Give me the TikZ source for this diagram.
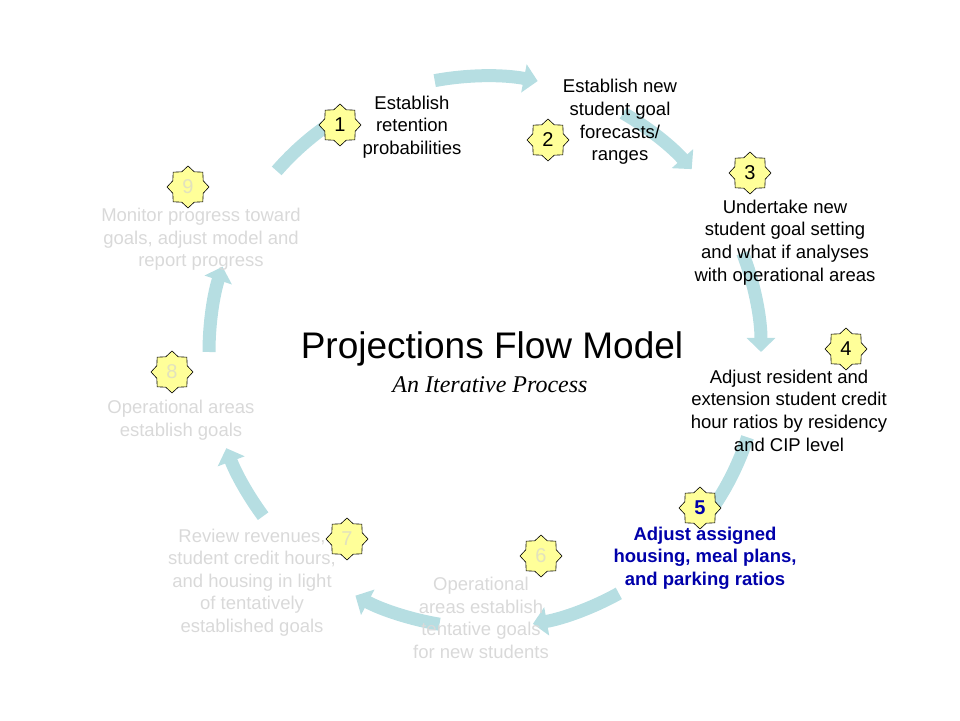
\documentclass[tikz,border=0pt]{standalone}
\usepackage{fontspec}
\setmainfont{Liberation Sans}
\newfontfamily\subfont{Liberation Serif}
\usetikzlibrary{shapes.geometric,arrows.meta}
\definecolor{arrowc}{RGB}{182,222,226}
\definecolor{fadec}{RGB}{217,217,217}
\definecolor{fadenum}{RGB}{226,226,190}
\definecolor{starfill}{RGB}{255,255,153}
\definecolor{bluec}{RGB}{0,0,170}
\begin{document}
\begin{tikzpicture}[x=1pt,y=1pt,
  flowarrow/.style={draw=arrowc, line width=13pt, -{Triangle[width=28pt,length=14pt]}},
  flowshaft/.style={draw=arrowc, line width=13pt},
  badge/.style={star, star points=8, star point ratio=1.28, minimum size=42pt, inner sep=0pt,
    draw=black, line width=0.6pt, fill=starfill, font=\fontsize{20}{20}\selectfont},
  stagetext/.style={align=center, font=\fontsize{18.5}{22.6}\selectfont, inner sep=0pt},
  fadetext/.style={stagetext, text=fadec}]
\useasboundingbox (0,0) rectangle (960,720);
\coordinate (c) at (485,368);
% arrows
\draw[flowshaft] ([shift={(c)}]139:276) arc[start angle=139, end angle=123, radius=276];
\draw[flowarrow] ([shift={(c)}]100.5:276) arc[start angle=100.5, end angle=79, radius=276];
\draw[flowarrow] ([shift={(c)}]60:276) arc[start angle=60, end angle=41.5, radius=276];
\draw[flowarrow] ([shift={(c)}]21:276) arc[start angle=21, end angle=0, radius=276];
\draw[flowshaft] ([shift={(c)}]-18:276) arc[start angle=-18, end angle=-36, radius=276];
\draw[flowarrow] ([shift={(c)}]-61:276) arc[start angle=-61, end angle=-80, radius=276];
\draw[flowarrow] ([shift={(c)}]-99.5:276) arc[start angle=-99.5, end angle=-118, radius=276];
\draw[flowarrow] ([shift={(c)}]-143.5:276) arc[start angle=-143.5, end angle=-159.6, radius=276];
\draw[flowarrow] ([shift={(c)}]180:276) arc[start angle=180, end angle=162, radius=276];
% title
\node[font=\fontsize{37}{40}\selectfont, inner sep=0pt] (title) at (492,371) {Projections Flow Model};
\node[font=\subfont\itshape\fontsize{24}{26}\selectfont, inner sep=0pt] (subtitle) at (490,335) {An Iterative Process};
% stage texts
\node[stagetext] (t1) at (412,593) {Establish\\retention\\probabilities};
\node[stagetext] (t2) at (620,598) {Establish new\\student goal\\forecasts/\\ranges};
\node[stagetext] (t3) at (785,477.5) {Undertake new\\student goal setting\\and what if analyses\\with operational areas};
\node[stagetext] (t4) at (789,309.5) {Adjust resident and\\extension student credit\\hour ratios by residency\\and CIP level};
\node[stagetext, text=bluec, font=\bfseries\fontsize{18.5}{22.6}\selectfont] (t5) at (705,162) {Adjust assigned\\housing, meal plans,\\and parking ratios};
\node[fadetext] (t6) at (481,102) {Operational\\areas establish\\tentative goals\\for new students};
\node[fadetext] (t7) at (252,137.5) {Review revenues,\\student credit hours,\\and housing in light\\of tentatively\\established goals};
\node[fadetext] (t8) at (181,299.5) {Operational areas\\establish goals};
\node[fadetext] (t9) at (201,480.5) {Monitor progress toward\\goals, adjust model and\\report progress};
% badges
\node[badge] (b1) at (340,595) {1};
\node[badge] (b2) at (548,580) {2};
\node[badge] (b3) at (750,547) {3};
\node[badge] (b4) at (846,371) {4};
\node[badge, text=bluec, font=\bfseries\fontsize{20}{20}\selectfont] (b5) at (700,212) {5};
\node[badge, text=fadenum] (b6) at (541,164) {6};
\node[badge, text=fadenum] (b7) at (347,181) {7};
\node[badge, text=fadenum] (b8) at (172,348) {8};
\node[badge, text=fadenum] (b9) at (188,533) {9};
\end{tikzpicture}
\end{document}
